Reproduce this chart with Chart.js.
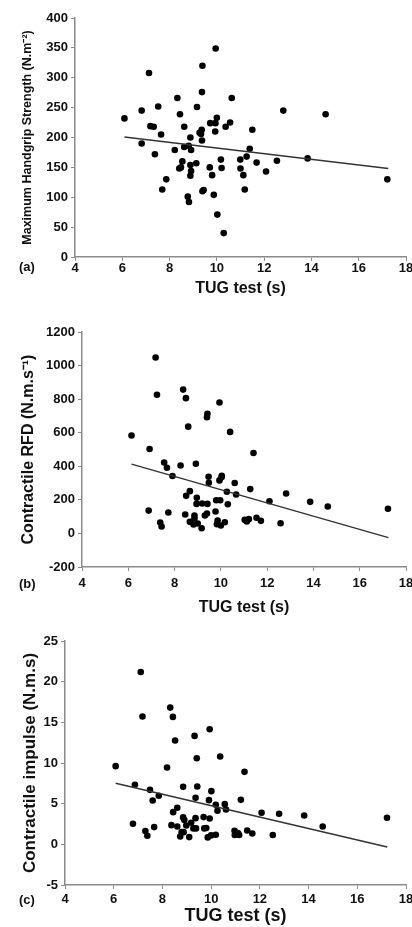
<!DOCTYPE html>
<html>
<head>
<meta charset="utf-8">
<script src="https://cdn.jsdelivr.net/npm/chart.js@4.4.1/dist/chart.umd.min.js"></script>
<style>
    body { margin: 0; background: #fff; }
    #wrap { position: relative; width: 412px; height: 927px; overflow: hidden; }
    canvas { position: absolute; left: 0; }
    .tag { position: absolute; font: bold 13px "Liberation Sans", Arial, sans-serif; color: #111; }
</style>
</head>
<body>
<div id="wrap">
    <canvas id="chart-a" width="412" height="300" style="top:0px"></canvas>
    <canvas id="chart-b" width="412" height="320" style="top:300px"></canvas>
    <canvas id="chart-c" width="412" height="312" style="top:615px"></canvas>
    <div class="tag" style="left:19px;top:259px">(a)</div>
    <div class="tag" style="left:19px;top:576px">(b)</div>
    <div class="tag" style="left:19px;top:892px">(c)</div>
</div>
<script>
// TUG test times (s)
const tugA = [6.09, 6.82, 6.82, 7.13, 7.19, 7.33, 7.38, 7.52, 7.64, 7.69, 7.86, 8.22, 8.33, 8.44, 8.41, 8.48, 8.54, 8.62, 8.62, 8.77, 8.82, 8.81, 8.88, 8.88, 8.91, 8.91, 8.88, 9.13, 9.16, 9.27, 9.33, 9.36, 9.37, 9.39, 9.37, 9.39, 9.44, 9.70, 9.72, 9.80, 9.87, 9.93, 9.94, 9.95, 10.0, 10.02, 10.17, 10.2, 10.29, 10.37, 10.56, 10.63, 10.99, 11.0, 11.12, 11.18, 11.26, 11.39, 11.5, 11.68, 12.08, 12.54, 12.81, 13.84, 14.6, 17.21];
const gripA = [232, 245, 190, 308, 219, 218, 172, 252, 205, 113, 130, 179, 266, 239, 148, 150, 160, 218, 184, 101, 92, 186, 200, 154, 179, 144, 136, 157, 251, 208, 206, 213, 195, 320, 276, 110, 112, 150, 224, 137, 104, 210, 224, 349, 233, 71, 163, 149, 40, 218, 225, 266, 163, 148, 137, 113, 168, 181, 213, 158, 143, 161, 245, 165, 239, 130];

const tugB = [6.14, 6.92, 6.88, 7.18, 7.24, 7.38, 7.44, 7.55, 7.67, 7.73, 7.91, 8.26, 8.37, 8.49, 8.46, 8.50, 8.59, 8.66, 8.66, 8.82, 8.86, 8.86, 8.92, 8.96, 8.95, 9.0, 9.17, 9.19, 9.31, 9.40, 9.42, 9.40, 9.42, 9.47, 9.48, 9.77, 9.80, 9.83, 9.86, 9.94, 9.94, 9.97, 10.0, 10.03, 10.04, 10.17, 10.26, 10.30, 10.40, 10.6, 10.66, 11.03, 11.12, 11.21, 11.27, 11.41, 11.54, 11.73, 12.10, 12.58, 12.82, 13.86, 14.62, 17.22];
const rfdB = [583, 503, 136, 1048, 826, 65, 41, 423, 391, 125, 342, 405, 857, 806, 113, 224, 636, 252, 69, 53, 107, 89, 415, 212, 176, 59, 31, 178, 107, 119, 176, 692, 712, 338, 302, 131, 198, 55, 77, 780, 316, 198, 47, 334, 344, 67, 248, 174, 605, 300, 232, 81, 71, 85, 264, 479, 93, 75, 192, 61, 238, 188, 160, 147];

const tugC = [6.08, 6.79, 6.87, 7.11, 7.18, 7.30, 7.38, 7.49, 7.60, 7.66, 7.85, 8.19, 8.32, 8.43, 8.37, 8.44, 8.52, 8.61, 8.61, 8.73, 8.79, 8.85, 8.85, 8.87, 8.90, 8.98, 9.10, 9.18, 9.27, 9.32, 9.36, 9.36, 9.38, 9.41, 9.43, 9.69, 9.72, 9.80, 9.86, 9.91, 9.94, 9.94, 10.0, 10.01, 10.19, 10.19, 10.26, 10.37, 10.56, 10.61, 10.96, 10.97, 11.10, 11.15, 11.22, 11.37, 11.48, 11.69, 12.07, 12.53, 12.79, 13.82, 14.58, 17.22];
const impulseC = [9.61, 2.53, 7.32, 21.19, 15.71, 1.63, 1.05, 6.70, 5.39, 2.12, 5.97, 9.45, 16.81, 15.67, 2.36, 3.96, 12.76, 4.49, 2.20, 0.97, 1.50, 7.07, 3.31, 1.50, 2.98, 2.32, 0.89, 2.65, 1.96, 13.33, 5.72, 3.22, 1.96, 10.59, 7.11, 3.35, 1.96, 2.0, 0.85, 5.43, 3.18, 14.15, 1.10, 6.54, 4.86, 1.18, 4.12, 10.80, 4.94, 4.29, 1.67, 1.14, 1.38, 1.14, 5.47, 8.91, 1.71, 1.34, 3.88, 1.14, 3.76, 3.55, 2.20, 3.26];

// regression line ends [x, y]
const trendA = [[6.09, 201], [17.25, 148]];
const trendB = [[6.14, 413], [17.24, -25]];
const trendC = [[6.08, 7.52], [17.23, -0.34]];

// tick labels
const xTicks = [4, 6, 8, 10, 12, 14, 16, 18];
const yTicksA = [0, 50, 100, 150, 200, 250, 300, 350, 400];
const yTicksB = [-200, 0, 200, 400, 600, 800, 1000, 1200];
const yTicksC = [-5, 0, 5, 10, 15, 20, 25];

Chart.defaults.font.family = '"Liberation Sans", Arial, sans-serif';
Chart.defaults.font.weight = 'bold';
Chart.defaults.color = '#111';

const axisGrey = '#8a8a8a';

function toPoints(xs, ys) {
    return xs.map((x, i) => ({ x: x, y: ys[i] }));
}

function makeChart(id, p) {
    return new Chart(document.getElementById(id), {
        data: {
            datasets: [{
                type: 'line',
                data: p.trend.map(d => ({ x: d[0], y: d[1] })),
                borderColor: '#333',
                borderWidth: 1.5,
                pointRadius: 0,
                fill: false
            }, {
                type: 'scatter',
                data: toPoints(p.xs, p.ys),
                backgroundColor: '#000',
                borderWidth: 0,
                pointRadius: 3.3
            }]
        },
        options: {
            responsive: false,
            animation: false,
            devicePixelRatio: 1,
            layout: { padding: { left: 0, top: p.top, right: 6, bottom: 0 } },
            plugins: { legend: { display: false }, tooltip: { enabled: false } },
            scales: {
                x: {
                    type: 'linear',
                    min: 4, max: 18,
                    afterBuildTicks: s => { s.ticks = xTicks.map(v => ({ value: v })); },
                    afterFit: s => { s.height = p.xHeight; s.paddingLeft = 0; s.paddingRight = 0; },
                    grid: { drawOnChartArea: false, color: axisGrey, tickLength: 4 },
                    border: { color: axisGrey, width: 1.5 },
                    ticks: { font: { size: 13, weight: 'bold' }, padding: p.xTickPad, maxRotation: 0, callback: v => String(v) },
                    title: { display: true, text: 'TUG test (s)', font: { size: p.xTitleSize, weight: 'bold' }, padding: { top: 0, bottom: p.xTitlePad } }
                },
                y: {
                    type: 'linear',
                    min: p.yTicks[0], max: p.yTicks[p.yTicks.length - 1],
                    afterBuildTicks: s => { s.ticks = p.yTicks.map(v => ({ value: v })); },
                    afterFit: s => { s.width = p.yWidth; s.paddingTop = 0; s.paddingBottom = 0; },
                    grid: { drawOnChartArea: false, color: axisGrey, tickLength: 4 },
                    border: { color: axisGrey, width: 1.5 },
                    ticks: { font: { size: 13, weight: 'bold' }, padding: 3, callback: v => String(v) },
                    title: { display: true, text: p.yTitle, font: { size: p.yTitleSize, weight: 'bold' }, padding: { top: p.yTitlePad, bottom: 0 } }
                }
            }
        }
    });
}

makeChart('chart-a', {
    xs: tugA, ys: gripA, trend: trendA, yTicks: yTicksA,
    top: 18, yWidth: 75, xHeight: 43, xTickPad: 0,
    xTitleSize: 16, xTitlePad: 2,
    yTitle: 'Maximum Handgrip Strength (N.m\u207B\u00B2)', yTitleSize: 12.5, yTitlePad: 20
});

makeChart('chart-b', {
    xs: tugB, ys: rfdB, trend: trendB, yTicks: yTicksB,
    top: 32, yWidth: 82, xHeight: 53, xTickPad: 5,
    xTitleSize: 16, xTitlePad: 3,
    yTitle: 'Contractile RFD (N.m.s\u207B\u00B9)', yTitleSize: 16, yTitlePad: 19
});

makeChart('chart-c', {
    xs: tugC, ys: impulseC, trend: trendC, yTicks: yTicksC,
    top: 26, yWidth: 65, xHeight: 42, xTickPad: 3,
    xTitleSize: 18, xTitlePad: 0,
    yTitle: 'Contractile impulse (N.m.s)', yTitleSize: 17, yTitlePad: 20
});
</script>
</body>
</html>
